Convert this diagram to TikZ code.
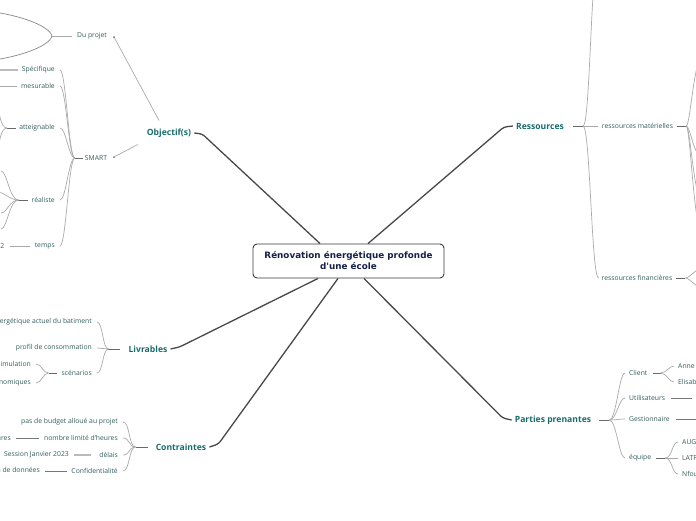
\documentclass[tikz,border=0pt]{standalone}
\usepackage{fontspec}
\setmainfont{Open Sans}
\newfontfamily\hubfont{DejaVu Sans}
\usetikzlibrary{calc}
\definecolor{teal1}{RGB}{24,108,108}
\definecolor{leafc}{RGB}{50,92,92}
\definecolor{navy}{RGB}{22,32,72}
\definecolor{mline}{RGB}{72,72,72}
\definecolor{sline}{RGB}{170,170,170}
\definecolor{stemc}{RGB}{105,105,105}
\begin{document}
\begin{tikzpicture}[x=1pt,y=-1pt,
 hub/.style={draw=mline!80!black, line width=0.9pt, rounded corners=4pt, fill=white, minimum width=191pt, minimum height=34pt, align=center, font=\hubfont\bfseries\fontsize{8.8}{11}\selectfont, text=navy, inner sep=0pt},
 mainlbl/.style={font=\bfseries\fontsize{8.6}{10}\selectfont, text=teal1, inner sep=0pt},
 leaf/.style={font=\fontsize{6.8}{8}\selectfont, text=leafc, inner sep=0pt},
 mainline/.style={draw=mline, line width=1.3pt, rounded corners=3pt},
 subline/.style={draw=sline, line width=0.7pt},
 thickline/.style={draw=sline!80, line width=1.3pt},
 stemline/.style={draw=stemc, line width=1pt},
 dotm/.style={circle, fill=stemc, inner sep=0pt, minimum size=2pt},
]
\useasboundingbox (0,0) rectangle (696,520);
\clip (0,0) rectangle (696,520);

% main labels
\node[mainlbl] (obj) at (169,133) {Objectif(s)};
\node[mainlbl] (res) at (540,126) {Ressources};
\node[mainlbl] (liv) at (148,349) {Livrables};
\node[mainlbl] (con) at (181,447) {Contraintes};
\node[mainlbl] (pp) at (553,420) {Parties prenantes};

% hub
\node[hub] (hub) at (348.5,261) {Rénovation énergétique profonde\\d'une école};

% main connectors
\draw[mainline] ($(obj.east)+(3,0)$) -- ++(8,1) -- ($(hub.north)+(-28.5,0)$);
\draw[mainline] ($(res.west)+(-3,0)$) -- ++(-9,1) -- ($(hub.north)+(19.5,0)$);
\draw[mainline] ($(liv.east)+(3,0)$) -- ++(9,-2) -- ($(hub.south)+(-30.5,0)$);
\draw[mainline] ($(con.east)+(3,0)$) -- ++(9,-3) -- ($(hub.south)+(-10.5,0)$);
\draw[mainline] ($(pp.west)+(-3,0)$) -- ++(-9,-2) -- ($(hub.south)+(15.5,0)$);

% ---------- Objectif(s)
\node[leaf] (dp) at (92,36) {Du projet};
\node[dotm] (dpdot) at (114,37) {};
\draw[subline] (dpdot) -- ($(obj.north)+(-10,-8)$);
\node[leaf] (smart) at (96,158) {SMART};
\node[dotm] (smdot) at (114,157) {};
\draw[subline] (smdot) -- ($(obj.south west)+(-9,7)$);

\coordinate (dpstem) at ($(dp.west)+(-25,0)$);
\coordinate (dpa) at (-25,10);
\coordinate (dpb) at (-25,62);
\draw[subline] ($(dp.west)+(-5,0)$) -- (dpstem);
\draw[subline, draw=stemc!80] (dpstem) .. controls +(-3,-12) and +(35,2) .. (dpa);
\draw[subline, draw=stemc!80] (dpstem) .. controls +(-3,12) and +(35,-2) .. (dpb);

\coordinate (smstem) at ($(smart.west)+(-10,0)$);
\draw[stemline] ($(smart.west)+(-2,0)$) -- (smstem);
\node[leaf, anchor=east] (spec) at (55,70) {Spécifique};
\node[leaf, anchor=east] (mes) at (55,86) {mesurable};
\node[leaf, anchor=east] (att) at (55,128) {atteignable};
\node[leaf, anchor=east] (real) at (55,200) {réaliste};
\node[leaf, anchor=east] (tps) at (55,246) {temps};
\foreach \c in {spec,mes,att,real,tps}
  \draw[subline] (smstem) .. controls +(-6,0) and +(6,0) .. ($(\c.east)+(5,0)$);

\coordinate (specc) at (-5,70);
\draw[thickline] ($(spec.west)+(-4,0)$) -- (specc);
\coordinate (mesc) at (-5,86);
\draw[subline] ($(mes.west)+(-4,0)$) -- (mesc);

\coordinate (attstem) at ($(att.west)+(-12,0)$);
\draw[stemline] ($(att.west)+(-3,0)$) -- (attstem);
\coordinate (atta) at (-4,107);
\coordinate (attb) at (-4,149);
\draw[subline] (attstem) .. controls +(-8,0) and +(4,0) .. (atta);
\draw[subline] (attstem) .. controls +(-8,0) and +(4,0) .. (attb);

\coordinate (realstem) at ($(real.west)+(-13,0)$);
\draw[stemline] ($(real.west)+(-3,0)$) -- (realstem);
\coordinate (reala) at (1,171);
\coordinate (realb) at (-2,192);
\coordinate (realc) at (1,213);
\coordinate (reald) at (1,229);
\foreach \c in {reala,realb,realc,reald}
  \draw[subline] (realstem) .. controls +(-9,0) and +(6,0) .. (\c);

\node[leaf, anchor=east] (tpsch) at (4.5,246) {2022};
\draw[subline] ($(tps.west)+(-5,0)$) -- ($(tpsch.east)+(5,0)$);

% ---------- Livrables
\coordinate (livstem) at ($(liv.west)+(-20,0)$);
\draw[stemline] ($(liv.west)+(-8,0)$) -- (livstem);
\node[leaf, anchor=east] (bil) at (92,322) {bilan énergétique actuel du batiment};
\node[leaf, anchor=east] (prof) at (92,348) {profil de consommation};
\node[leaf, anchor=east] (scen) at (92,373) {scénarios};
\foreach \c in {bil,prof,scen}
  \draw[subline] (livstem) .. controls +(-6,0) and +(6,0) .. ($(\c.east)+(5,0)$);
\coordinate (scstem) at ($(scen.west)+(-13,0)$);
\draw[stemline] ($(scen.west)+(-5,0)$) -- (scstem);
\node[leaf, anchor=east] (sim) at (31,364) {résultats de simulation};
\node[leaf, anchor=east] (eco) at (31,383) {études économiques};
\foreach \c in {sim,eco}
  \draw[subline] (scstem) .. controls +(-6,0) and +(6,0) .. ($(\c.east)+(5,0)$);

% ---------- Contraintes
\coordinate (constem) at ($(con.west)+(-20,0)$);
\draw[stemline] ($(con.west)+(-8,0)$) -- (constem);
\node[leaf, anchor=east] (bud) at (118,422) {pas de budget alloué au projet};
\node[leaf, anchor=east] (nbh) at (118,438) {nombre limité d'heures};
\node[leaf, anchor=east] (del) at (118,455) {délais};
\node[leaf, anchor=east] (conf) at (118,471) {Confidentialité};
\foreach \c in {bud,nbh,del,conf}
  \draw[subline] (constem) .. controls +(-7,0) and +(7,0) .. ($(\c.east)+(5,0)$);
\node[leaf, anchor=east] (hrs) at (11,438) {heures};
\draw[subline, draw=stemc!90] ($(nbh.west)+(-5,0)$) -- ($(hrs.east)+(5,0)$);
\node[leaf, anchor=east] (sess) at (69,455) {Session Janvier 2023};
\draw[thickline] ($(del.west)+(-8,0)$) -- ($(sess.east)+(5,0)$);
\node[leaf, anchor=east] (don) at (40,471) {protection de données};
\draw[subline, draw=stemc!90] ($(conf.west)+(-4,0)$) -- ($(don.east)+(5,0)$);

% ---------- Ressources
\coordinate (resstem) at ($(res.east)+(19,0)$);
\draw[stemline] ($(res.east)+(9,0)$) -- (resstem);
\node[leaf] (rm) at (637.5,126) {ressources matérielles};
\node[leaf] (rf) at (637,278) {ressources financières};
\coordinate (restop) at (598,-40);
\draw[subline] (resstem) .. controls +(7,0) and +(-7,0) .. (restop);
\draw[subline] (resstem) -- ($(rm.west)+(-4,0)$);
\draw[subline] (resstem) .. controls +(7,0) and +(-7,0) .. ($(rf.west)+(-3,0)$);

\coordinate (rmstem) at ($(rm.east)+(13,0)$);
\draw[stemline] ($(rm.east)+(4,0)$) -- (rmstem);
\coordinate (rma) at (702,58);
\coordinate (rmb) at (702,157);
\coordinate (rmc) at (702,200);
\coordinate (rmd) at (702,232);
\foreach \c in {rma,rmb,rmc,rmd}
  \draw[subline] (rmstem) .. controls +(4,0) and +(-8,0) .. (\c);

\coordinate (rfstem) at ($(rf.east)+(13,0)$);
\draw[stemline] ($(rf.east)+(4,0)$) -- (rfstem);
\coordinate (rfa) at (704,267);
\coordinate (rfb) at (704,289);
\foreach \c in {rfa,rfb}
  \draw[subline] (rfstem) .. controls +(4,0) and +(-6,0) .. (\c);

% ---------- Parties prenantes
\coordinate (ppstem) at ($(pp.east)+(18,0)$);
\draw[stemline] ($(pp.east)+(8,0)$) -- (ppstem);
\node[leaf, anchor=west] (cl) at (629,373) {Client};
\node[leaf, anchor=west] (ut) at (629,398) {Utilisateurs};
\node[leaf, anchor=west] (ge) at (629,419) {Gestionnaire};
\node[leaf, anchor=west] (eq) at (629,458) {équipe};
\foreach \c in {cl,ut,ge,eq}
  \draw[subline] (ppstem) .. controls +(7,0) and +(-6,0) .. ($(\c.west)+(-4,0)$);

\coordinate (clstem) at ($(cl.east)+(13,0)$);
\draw[stemline] ($(cl.east)+(5,0)$) -- (clstem);
\node[leaf, anchor=west] (anne) at (678,366) {Anne};
\node[leaf, anchor=west] (elis) at (678,382) {Elisab};
\foreach \c in {anne,elis}
  \draw[subline] (clstem) .. controls +(6,0) and +(-5,0) .. ($(\c.west)+(-4,0)$);

\coordinate (utc) at (692,398);
\draw[subline, draw=stemc!90] ($(ut.east)+(6,0)$) -- (utc);
\coordinate (gec) at (700,419);
\draw[subline, draw=stemc!90] ($(ge.east)+(6,0)$) -- (gec);

\coordinate (eqstem) at ($(eq.east)+(14,0)$);
\draw[stemline] ($(eq.east)+(5,0)$) -- (eqstem);
\node[leaf, anchor=west] (aug) at (682,442) {AUG};
\node[leaf, anchor=west] (lat) at (682,458) {LATF};
\node[leaf, anchor=west] (nfo) at (682,474) {Nfou};
\foreach \c in {aug,lat,nfo}
  \draw[subline] (eqstem) .. controls +(7,0) and +(-6,0) .. ($(\c.west)+(-4,0)$);
\end{tikzpicture}
\end{document}
